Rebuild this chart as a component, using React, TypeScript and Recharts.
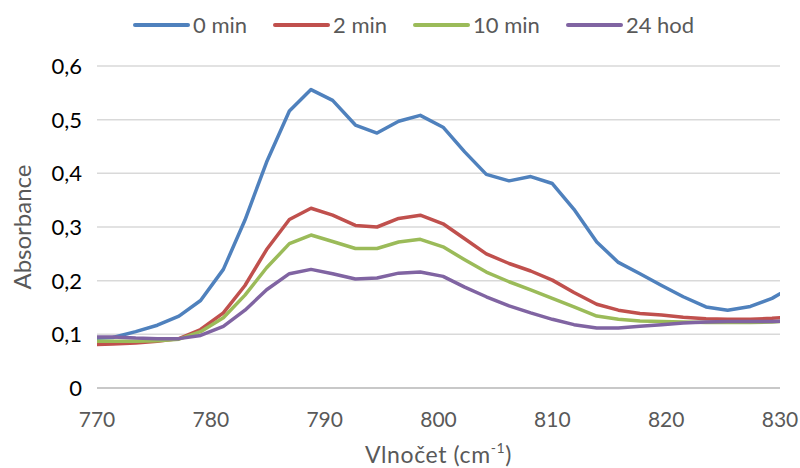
import React from 'react';
import { LineChart, Line, XAxis, YAxis, CartesianGrid, Legend, Label } from 'recharts';

const wavenumbers = [769.5, 771.4, 773.4, 775.3, 777.2, 779.1, 781.1, 783.0, 784.9, 786.9, 788.8, 790.7, 792.7, 794.6, 796.5, 798.4, 800.4, 802.3, 804.2, 806.2, 808.1, 810.0, 811.9, 813.9, 815.8, 817.7, 819.6, 821.5, 823.5, 825.4, 827.4, 829.3, 831.2];
const min0 = [0.092, 0.094, 0.105, 0.117, 0.134, 0.163, 0.221, 0.313, 0.421, 0.516, 0.556, 0.536, 0.490, 0.475, 0.497, 0.508, 0.486, 0.440, 0.398, 0.386, 0.394, 0.381, 0.333, 0.272, 0.234, 0.213, 0.191, 0.170, 0.151, 0.145, 0.152, 0.167, 0.190];
const min2 = [0.081, 0.082, 0.084, 0.087, 0.092, 0.109, 0.140, 0.191, 0.258, 0.314, 0.335, 0.322, 0.303, 0.300, 0.316, 0.322, 0.306, 0.278, 0.250, 0.232, 0.218, 0.201, 0.178, 0.156, 0.145, 0.139, 0.136, 0.132, 0.129, 0.128, 0.128, 0.130, 0.133];
const min10 = [0.087, 0.087, 0.087, 0.088, 0.091, 0.105, 0.131, 0.173, 0.224, 0.269, 0.285, 0.273, 0.260, 0.260, 0.272, 0.277, 0.263, 0.239, 0.216, 0.198, 0.183, 0.167, 0.151, 0.134, 0.128, 0.125, 0.124, 0.123, 0.122, 0.122, 0.122, 0.123, 0.125];
const hod24 = [0.095, 0.095, 0.093, 0.092, 0.092, 0.098, 0.115, 0.145, 0.183, 0.213, 0.221, 0.213, 0.203, 0.205, 0.214, 0.216, 0.208, 0.188, 0.170, 0.153, 0.140, 0.128, 0.118, 0.112, 0.112, 0.115, 0.118, 0.121, 0.123, 0.124, 0.124, 0.124, 0.125];

const seriesNames = ['0 min', '2 min', '10 min', '24 hod'];
const seriesColors = ['#4F81BD', '#C0504D', '#9BBB59', '#8064A2'];
const xTicks = [770, 780, 790, 800, 810, 820, 830];
const yTicks = [0, 0.1, 0.2, 0.3, 0.4, 0.5, 0.6];

const data = wavenumbers.map((x, i) => ({
  x,
  s0: min0[i],
  s1: min2[i],
  s2: min10[i],
  s3: hod24[i],
}));

const FONT = 'Lato, "Open Sans", sans-serif';

const XTick = (props: any) => {
  const { x, y, payload } = props;
  return (
    <text x={x} y={y} dy={16} textAnchor="middle" fill="#595959" fontSize={21} fontFamily={FONT}>
      {payload.value}
    </text>
  );
};

const YTick = (props: any) => {
  const { x, y, payload } = props;
  const v = payload.value === 0 ? '0' : Number(payload.value).toFixed(1).replace('.', ',');
  return (
    <text x={x} y={y} dy={8} textAnchor="end" fill="#000000" fontSize={22} fontFamily={FONT}>
      {v}
    </text>
  );
};

const LegendContent = () => (
  <div style={{ display: 'flex', justifyContent: 'flex-start', paddingLeft: 133, fontFamily: FONT, fontSize: 22, color: '#595959' }}>
    {seriesNames.map((n, i) => (
      <div key={n} style={{ display: 'flex', alignItems: 'center', marginRight: 26 }}>
        <svg width={57} height={10} style={{ display: 'block' }}>
          <line x1={2} y1={5} x2={55} y2={5} stroke={seriesColors[i]} strokeWidth={4} strokeLinecap="round" />
        </svg>
        <span style={{ marginLeft: 3, lineHeight: '26px' }}>{n}</span>
      </div>
    ))}
  </div>
);

const XTitle = (props: any) => {
  const vb = props.viewBox || {};
  const cx = vb.x + vb.width / 2;
  return (
    <text x={cx} y={463} textAnchor="middle" fill="#595959" fontSize={23} letterSpacing={0.6} fontFamily={FONT}>
      <tspan>Vlnočet (cm</tspan>
      <tspan fontSize={14} dy={-10}>-1</tspan>
      <tspan dy={10}>)</tspan>
    </text>
  );
};

const YTitle = (props: any) => {
  const vb = props.viewBox || {};
  const cy = vb.y + vb.height / 2;
  return (
    <text x={21} y={cy} textAnchor="middle" dominantBaseline="central" transform={`rotate(-90, 21, ${cy})`} fill="#595959" fontSize={24} fontFamily={FONT}>
      Absorbance
    </text>
  );
};

export default function App() {
  return (
    <div style={{ position: 'absolute', left: 0, top: 0, width: 800, height: 468, background: '#fff' }}>
      <LineChart width={800} height={468} data={data} margin={{ top: 66, right: 20, bottom: 10, left: 0 }}>
        <CartesianGrid vertical={false} stroke="#d9d9d9" strokeWidth={1.5} />
        <XAxis
          dataKey="x"
          type="number"
          domain={[770, 830]}
          allowDataOverflow
          ticks={xTicks}
          height={70}
          tickLine={false}
          tickSize={0}
          tickMargin={23}
          axisLine={{ stroke: '#bfbfbf', strokeWidth: 1.5 }}
          tick={<XTick />}
          interval={0}
        >
          <Label content={<XTitle />} />
        </XAxis>
        <YAxis
          type="number"
          domain={[0, 0.6]}
          ticks={yTicks}
          width={97}
          tickLine={false}
          tickSize={0}
          tickMargin={15}
          axisLine={false}
          tick={<YTick />}
          interval={0}
        >
          <Label content={<YTitle />} />
        </YAxis>
        <Legend
          verticalAlign="middle"
          layout="horizontal"
          content={<LegendContent />}
          wrapperStyle={{ position: 'absolute', top: 12, left: 0, width: 800, height: 26 }}
        />
        {['s0', 's1', 's2', 's3'].map((k, i) => (
          <Line
            key={k}
            type="linear"
            dataKey={k}
            name={seriesNames[i]}
            stroke={seriesColors[i]}
            strokeWidth={3.5}
            dot={false}
            activeDot={false}
            isAnimationActive={false}
            strokeLinejoin="round"
          />
        ))}
      </LineChart>
    </div>
  );
}
